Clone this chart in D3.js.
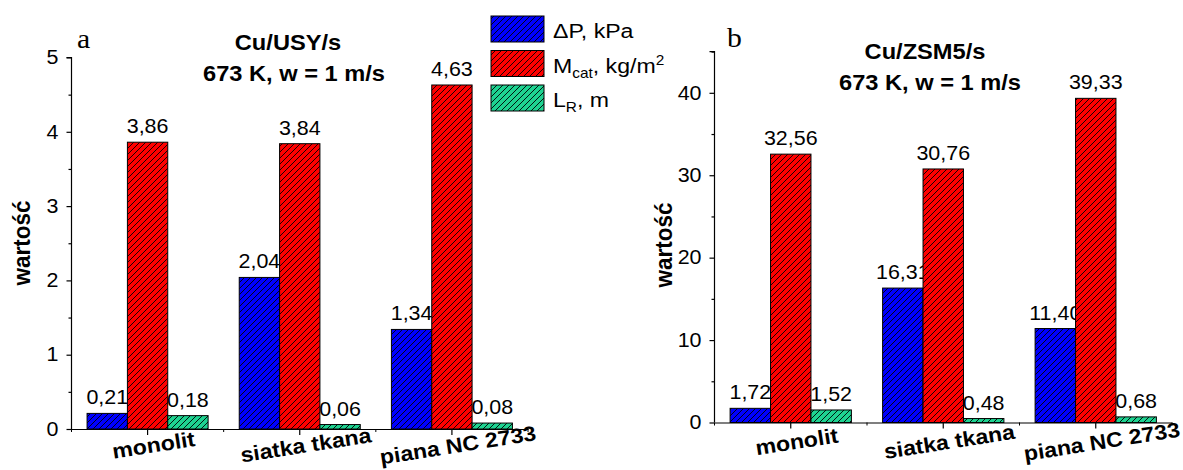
<!DOCTYPE html>
<html><head><meta charset="utf-8">
<script src="https://cdn.jsdelivr.net/npm/d3@7"></script>
<style>body{margin:0;background:#fff} text{font-family:Arial,"Liberation Sans",sans-serif;fill:#000}</style>
</head><body><svg id="c" width="1183" height="470"></svg>
<script>
// ---- data ----
const categories = ["monolit", "siatka tkana", "piana NC 2733"];
const seriesKeys = ["dP", "Mcat", "LR"];
const seriesColors = ["#0000ff", "#ff0000", "#1ed391"];
const aDeltaP = [0.21, 2.04, 1.34];
const aMcat = [3.86, 3.84, 4.63];
const aLR = [0.18, 0.06, 0.08];
const bDeltaP = [1.72, 16.31, 11.40];
const bMcat = [32.56, 30.76, 39.33];
const bLR = [1.52, 0.48, 0.68];
const aTicks = [0, 1, 2, 3, 4, 5];
const aMinorTicks = [0.5, 1.5, 2.5, 3.5, 4.5];
const bTicks = [0, 10, 20, 30, 40];
const bMinorTicks = [5, 15, 25, 35, 45];
const titleA = ["Cu/USY/s", "673 K, w = 1 m/s"];
const titleB = ["Cu/ZSM5/s", "673 K, w = 1 m/s"];
const yLabel = "wartość";

const SX = 1.1;
const svg = d3.select("#c");
const defs = svg.append("defs");
seriesColors.forEach((col, i) => {
  const p = defs.append("pattern").attr("id", "h" + i).attr("patternUnits", "userSpaceOnUse")
    .attr("width", 6).attr("height", 6);
  p.append("rect").attr("width", 6).attr("height", 6).attr("fill", col);
  p.append("path").attr("d", "M-1,1 L1,-1 M0,6 L6,0 M5,7 L7,5")
    .attr("stroke", "#000").attr("stroke-width", 0.9);
});
const fmt = v => d3.format(".2f")(v).replace(".", ",");

function stretchText(sel, x, y, extra) {
  return sel.attr("transform", `translate(${x},${y})${extra || ""} scale(${SX},1)`);
}

function panel(cfg) {
  const g = svg.append("g");
  const x0 = d3.scaleBand().domain(categories).range([cfg.xl, cfg.xr]).paddingInner(0).paddingOuter(0);
  const x1 = d3.scaleBand().domain(seriesKeys).range([0, x0.bandwidth()]).paddingInner(0).paddingOuter(0.386);
  const y = d3.scaleLinear().domain([0, cfg.ymax]).range([cfg.y0, cfg.yTop]);

  // bars + labels, series order
  cfg.series.forEach((vals, s) => {
    const key = seriesKeys[s];
    g.append("g").selectAll("rect").data(vals).join("rect")
      .attr("x", (d, i) => x0(categories[i]) + x1(key))
      .attr("y", d => y(d))
      .attr("width", x1.bandwidth())
      .attr("height", d => y(0) - y(d))
      .attr("fill", `url(#h${s})`).attr("stroke", "#000").attr("stroke-width", 1);
    g.append("g").selectAll("text").data(vals).join("text")
      .attr("text-anchor", "middle").style("font-size", "19.5px")
      .each(function (d, i) {
        stretchText(d3.select(this), x0(categories[i]) + x1(key) + x1.bandwidth() / 2, y(d) - 9);
      })
      .text(d => fmt(d));
  });

  // y axis
  const ya = g.append("g").attr("transform", `translate(${cfg.xl},0)`)
    .call(d3.axisLeft(y).tickValues(cfg.ticks).tickSize(5).tickSizeOuter(0).tickPadding(8).tickFormat(d3.format("d")));
  ya.selectAll("text").style("font-size", "19.5px").attr("transform", `scale(${SX},1)`).attr("x", -13 / SX);
  const ym = g.append("g").attr("transform", `translate(${cfg.xl},0)`)
    .call(d3.axisLeft(y).tickValues(cfg.minor).tickSize(3).tickFormat(""));
  ym.select(".domain").remove();
  ya.select(".domain").attr("d", `M0,${y(0)}V${y(cfg.ymax)}H-5`);

  // x axis
  const xa = g.append("g").attr("transform", `translate(0,${cfg.y0})`)
    .call(d3.axisBottom(x0).tickSize(6).tickSizeOuter(0).tickFormat(""));
  const bounds = categories.map(c => x0(c)).concat([x0.range()[1]]);
  xa.selectAll(".minor").data(bounds).join("line").attr("class", "minor")
    .attr("x1", d => d).attr("x2", d => d).attr("y1", 0).attr("y2", 3).attr("stroke", "#000");
  g.selectAll(".domain, .tick line").attr("stroke", "#000").attr("stroke-width", 1.2);

  // category labels
  g.append("g").selectAll("text").data(categories).join("text")
    .attr("text-anchor", "middle").attr("dy", "0.35em")
    .style("font-size", "21px").style("font-weight", "bold")
    .each(function (d) {
      stretchText(d3.select(this), x0(d) + x0.bandwidth() / 2 + 6, cfg.y0 + cfg.labOff, " rotate(-9)");
    })
    .text(d => d);

  // y label
  g.append("text").attr("text-anchor", "middle")
    .style("font-size", "22.5px").style("font-weight", "bold").text(yLabel)
    .attr("transform", `translate(${cfg.ylx},${cfg.yly}) rotate(-90) scale(1,${SX})`);

  // titles
  cfg.title.forEach((t, i) => {
    stretchText(g.append("text").attr("text-anchor", "middle")
      .style("font-size", "21.5px").style("font-weight", "bold").text(t),
      cfg.tx[i], cfg.ty[i]);
  });
  // panel letter
  stretchText(g.append("text").style("font-family", "'Liberation Serif','Times New Roman',serif")
    .style("font-size", "27px").text(cfg.letter), cfg.lx, cfg.ly);
}

panel({
  series: [aDeltaP, aMcat, aLR], ticks: aTicks, minor: aMinorTicks, ymax: 5,
  xl: 71.5, xr: 528, y0: 429, yTop: 57.5, title: titleA, labOff: 16,
  tx: [288, 294], ty: [50, 81], ylx: 30, yly: 243, letter: "a", lx: 77, ly: 48
});
panel({
  series: [bDeltaP, bMcat, bLR], ticks: bTicks, minor: bMinorTicks, ymax: 45,
  xl: 714.5, xr: 1172, y0: 422.5, yTop: 51.6, title: titleB, labOff: 19,
  tx: [925, 930], ty: [59, 90], ylx: 672, yly: 245, letter: "b", lx: 727, ly: 47
});

// legend
const legendY = [16, 50.5, 85];
const leg = svg.append("g");
seriesKeys.forEach((k, i) => {
  leg.append("rect").attr("x", 491).attr("y", legendY[i]).attr("width", 53).attr("height", 26)
    .attr("fill", `url(#h${i})`).attr("stroke", "#000").attr("stroke-width", 1);
});
function legText(i) {
  return stretchText(leg.append("text").style("font-size", "21px"), 553, legendY[i] + 22);
}
legText(0).text("ΔP, kPa");
const t1 = legText(1);
t1.append("tspan").text("M");
t1.append("tspan").attr("dy", 5).style("font-size", "14px").text("cat");
t1.append("tspan").attr("dy", -5).text(", kg/m");
t1.append("tspan").attr("dy", -8).style("font-size", "14px").text("2");
const t2 = legText(2);
t2.append("tspan").text("L");
t2.append("tspan").attr("dy", 5).style("font-size", "14px").text("R");
t2.append("tspan").attr("dy", -5).text(", m");
</script></body></html>
